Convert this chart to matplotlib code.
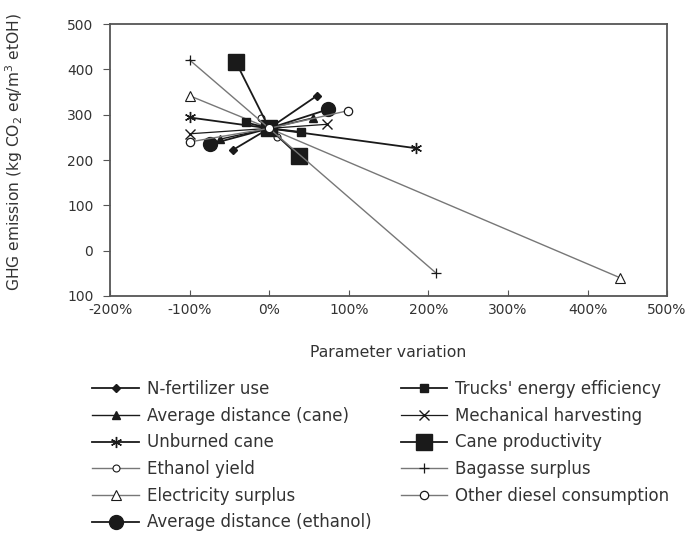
import matplotlib.pyplot as plt
import numpy as np

plt.rcParams.update({'font.size': 10, 'font.family': 'DejaVu Sans'})

# parameter variation (%) and GHG emission (kg CO2 eq/m3 etOH), low / base / high
n_fert_x = [-45, 0, 60];      n_fert_y = [223, 270, 342]
dist_cane_x = [-62, 0, 55];   dist_cane_y = [246, 270, 293]
unburned_x = [-100, 0, 185];  unburned_y = [294, 270, 226]
eth_yield_x = [-10, 0, 10];   eth_yield_y = [293, 270, 252]
elec_x = [-100, 0, 441];      elec_y = [342, 270, -60]
dist_eth_x = [-74, 0, 74];    dist_eth_y = [235, 270, 312]
trucks_x = [-29, 0, 40];      trucks_y = [283, 270, 262]
mech_x = [-100, 0, 73];       mech_y = [258, 270, 279]
cane_prod_x = [-42, 0, 38];   cane_prod_y = [417, 270, 208]
bagasse_x = [-100, 0, 210];   bagasse_y = [421, 270, -50]
diesel_x = [-100, 0, 99];     diesel_y = [240, 270, 309]

xticks = [-200, -100, 0, 100, 200, 300, 400, 500]
xticklabels = ['-200%', '-100%', '0%', '100%', '200%', '300%', '400%', '500%']
yticks = [-100, 0, 100, 200, 300, 400, 500]
yticklabels = ['100', '0', '100', '200', '300', '400', '500']

dk = '#1a1a1a'
gr = '#777777'
series = [
    ('N-fertilizer use', n_fert_x, n_fert_y, dict(color=dk, lw=1.3, marker='D', ms=4.5, mfc=dk, mec=dk)),
    ('Average distance (cane)', dist_cane_x, dist_cane_y, dict(color=dk, lw=1.0, marker='^', ms=6, mfc=dk, mec=dk)),
    ('Unburned cane', unburned_x, unburned_y, dict(color=dk, lw=1.3, marker=(6, 2, 0), ms=8, mfc=dk, mec=dk, mew=1.0)),
    ('Ethanol yield', eth_yield_x, eth_yield_y, dict(color=gr, lw=1.0, marker='o', ms=5, mfc='white', mec=dk, mew=0.8)),
    ('Electricity surplus', elec_x, elec_y, dict(color=gr, lw=1.0, marker='^', ms=6.5, mfc='white', mec=dk, mew=0.8)),
    ('Average distance (ethanol)', dist_eth_x, dist_eth_y, dict(color=dk, lw=1.3, marker='o', ms=10, mfc=dk, mec=dk)),
    ("Trucks' energy efficiency", trucks_x, trucks_y, dict(color=dk, lw=1.3, marker='s', ms=6, mfc=dk, mec=dk)),
    ('Mechanical harvesting', mech_x, mech_y, dict(color=dk, lw=0.9, marker='x', ms=7, mfc=dk, mec=dk, mew=1.0)),
    ('Cane productivity', cane_prod_x, cane_prod_y, dict(color=dk, lw=1.3, marker='s', ms=11.5, mfc=dk, mec=dk)),
    ('Bagasse surplus', bagasse_x, bagasse_y, dict(color=gr, lw=1.0, marker='+', ms=7, mfc=dk, mec=dk, mew=0.9)),
    ('Other diesel consumption', diesel_x, diesel_y, dict(color=gr, lw=1.0, marker='o', ms=6, mfc='white', mec=dk, mew=0.9)),
]

fig = plt.figure(figsize=(6.92, 5.38), dpi=100)
ax = fig.add_axes([0.159, 0.450, 0.805, 0.505])

for name, xs, ys, st in series:
    ax.plot(xs, ys, label=name, **st)

ax.set_xlim(-200, 500)
ax.set_ylim(-100, 500)
ax.set_xticks(xticks)
ax.set_xticklabels(xticklabels)
ax.set_yticks(yticks)
ax.set_yticklabels(yticklabels)
for s in ax.spines.values():
    s.set_color('#555555')
    s.set_linewidth(1.3)
ax.tick_params(axis='x', direction='in', length=4, colors='#555555', labelcolor='#333333', pad=5)
ax.tick_params(axis='y', direction='out', length=5, colors='#555555', labelcolor='#333333', pad=7)
ax.set_xlabel('Parameter variation', color='#333333', fontsize=11.3, labelpad=20)
ax.set_ylabel(r'GHG emission (kg CO$_2$ eq/m$^3$ etOH)', color='#333333', fontsize=11.2)
ax.yaxis.set_label_coords(-0.152, 0.53)

h, l = ax.get_legend_handles_labels()
leg = fig.legend(h, l, ncol=2, loc='upper left', bbox_to_anchor=(0.124, 0.306),
                 frameon=False, fontsize=12, handlelength=2.8, handletextpad=0.48,
                 columnspacing=1.74, labelspacing=0.52, borderaxespad=0)
for t in leg.get_texts():
    t.set_color('#333333')

fig.savefig('out.png', dpi=100)
